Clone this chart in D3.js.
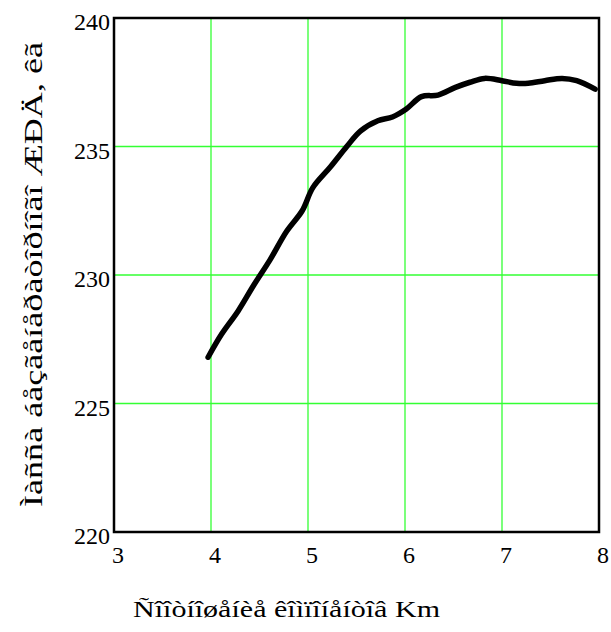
<!DOCTYPE html>
<html>
<head>
<meta charset="utf-8">
<title>Mass vs Km</title>
<script src="https://cdn.jsdelivr.net/npm/d3@7"></script>
<style>
body { margin: 0; background: #fff; }
text { font-family: "Liberation Serif", "Times New Roman", serif; fill: #000; }
</style>
</head>
<body>
<div id="chart"></div>
<script>
/* data */
var km   = [3.97, 4.11, 4.28, 4.44, 4.61, 4.78, 4.94, 5.05, 5.23, 5.40, 5.54, 5.72, 5.87,
            6.01, 6.17, 6.34, 6.52, 6.67, 6.82, 7.00, 7.15, 7.27, 7.44, 7.62, 7.77, 7.96];
var mass = [226.8, 227.7, 228.6, 229.6, 230.6, 231.7, 232.5, 233.4, 234.2, 235.0, 235.6, 236.0, 236.15,
            236.45, 236.94, 237.0, 237.3, 237.5, 237.65, 237.56, 237.46, 237.46, 237.56, 237.65, 237.56, 237.23];
var xTicks = [3, 4, 5, 6, 7, 8];
var yTicks = [220, 225, 230, 235, 240];
var xTitle = "Ñîîòíîøåíèå êîìïîíåíòîâ Km";
var yTitle = "Ìàññà áåçãåíåðàòîðíîãî ÆÐÄ, êã";

var width = 611, height = 632;
var m = {left: 114, right: 12, top: 18, bottom: 100};

var x = d3.scaleLinear().domain([3, 8]).range([m.left, width - m.right]);
var y = d3.scaleLinear().domain([220, 240]).range([height - m.bottom, m.top]);

var svg = d3.select("#chart").append("svg")
    .attr("width", width)
    .attr("height", height);

/* grid */
svg.append("g").selectAll("line").data(xTicks.slice(1, -1)).enter().append("line")
    .attr("x1", function(d) { return x(d); }).attr("x2", function(d) { return x(d); })
    .attr("y1", y(220)).attr("y2", y(240))
    .style("stroke", "#33ff33").style("stroke-width", 1.3);
svg.append("g").selectAll("line").data(yTicks.slice(1, -1)).enter().append("line")
    .attr("x1", x(3)).attr("x2", x(8))
    .attr("y1", function(d) { return y(d); }).attr("y2", function(d) { return y(d); })
    .style("stroke", "#33ff33").style("stroke-width", 1.3);

/* frame */
svg.append("rect")
    .attr("x", x(3)).attr("y", y(240))
    .attr("width", x(8) - x(3)).attr("height", y(220) - y(240))
    .style("fill", "none").style("stroke", "#000").style("stroke-width", 2.5);

/* tick labels */
svg.append("g").selectAll("text").data(xTicks).enter().append("text")
    .attr("x", function(d) { return x(d) + 4; })
    .attr("y", y(220) + 31)
    .attr("text-anchor", "middle")
    .style("font-size", "24px")
    .text(function(d) { return d; });
svg.append("g").selectAll("text").data(yTicks).enter().append("text")
    .attr("x", x(3) - 4)
    .attr("y", function(d) { return y(d) + 12; })
    .attr("text-anchor", "end")
    .style("font-size", "24px")
    .text(function(d) { return d; });

/* the curve */
var line = d3.line()
    .x(function(d, i) { return x(km[i]); })
    .y(function(d, i) { return y(mass[i]); })
    .curve(d3.curveCatmullRom);
svg.append("path")
    .datum(mass)
    .attr("d", line)
    .style("fill", "none")
    .style("stroke", "#000")
    .style("stroke-width", 5.5)
    .style("stroke-linejoin", "round")
    .style("stroke-linecap", "round");

/* titles */
svg.append("text")
    .attr("x", 133).attr("y", 617)
    .attr("textLength", 307)
    .attr("lengthAdjust", "spacingAndGlyphs")
    .style("font-size", "23px")
    .text(xTitle);
svg.append("text")
    .attr("transform", "translate(42,507) rotate(-90)")
    .attr("textLength", 465)
    .attr("lengthAdjust", "spacingAndGlyphs")
    .style("font-size", "25px")
    .text(yTitle);
</script>
</body>
</html>
